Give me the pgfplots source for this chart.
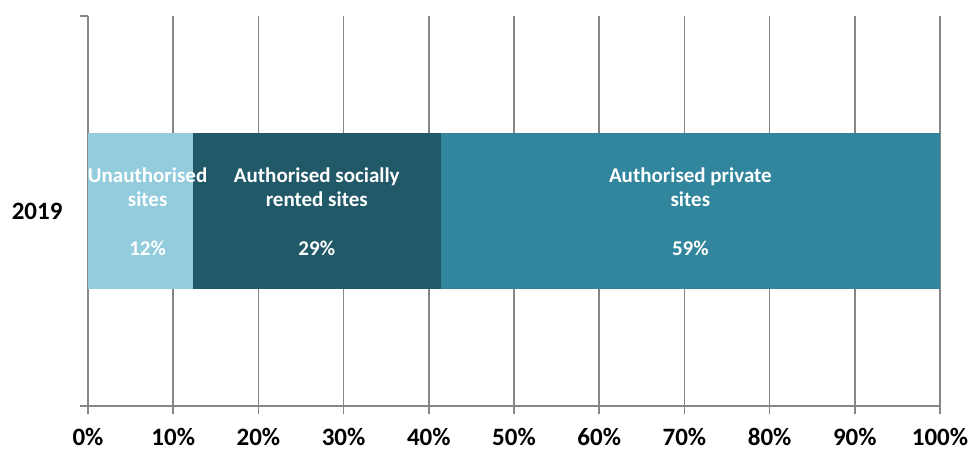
\documentclass[border=0pt]{standalone}
\usepackage{pgfplots}
\pgfplotsset{compat=1.18}
\usepackage{fontspec}
\setmainfont{Carlito}
\definecolor{cLight}{HTML}{93CDDD}
\definecolor{cDark}{HTML}{215968}
\definecolor{cMid}{HTML}{31859C}
\definecolor{cGrid}{HTML}{868686}
\begin{document}
\begin{tikzpicture}[x=1pt,y=1pt]
\path[use as bounding box] (0,0) rectangle (973,450);
\begin{axis}[
  at={(88pt,44pt)}, anchor=south west,
  scale only axis, width=852pt, height=390pt,
  xbar stacked, bar width=155pt,
  xmin=0, xmax=100, ymin=-1, ymax=1,
  xtick={0,10,...,100},
  xticklabel={\pgfmathprintnumber{\tick}\%},
  /pgf/number format/assume math mode=true,
  ytick={-1,1}, yticklabels={},
  extra y ticks={0}, extra y tick labels={2019},
  extra y tick style={major tick length=0pt, yticklabel style={xshift=-22pt}},
  ticklabel style={font=\fontsize{25}{29}\selectfont\bfseries, text=black},
  xticklabel style={yshift=-13pt, inner sep=1pt},
  xmajorgrids, grid style={cGrid, line width=1.6pt},
  axis x line=bottom, axis y line=left,
  axis line style={cGrid, line width=1.6pt, -},
  tick style={cGrid, line width=1.6pt},
  major tick length=8pt, tick align=outside,
]
\addplot[fill=cLight, draw=none] coordinates {(12.3,0)};
\addplot[fill=cDark, draw=none] coordinates {(29.1,0)};
\addplot[fill=cMid, draw=none] coordinates {(58.6,0)};
\coordinate (A) at (axis cs:7.0,0);
\coordinate (B) at (axis cs:26.85,0);
\coordinate (C) at (axis cs:70.7,0);
\end{axis}
\tikzset{lab/.style={font=\fontsize{21}{24}\selectfont\bfseries, text=white, align=center}}
\node[lab, yshift=24pt] at (A) {Unauthorised\\sites};
\node[lab, yshift=-37pt] at (A) {12\%};
\node[lab, yshift=24pt] at (B) {Authorised socially\\rented sites};
\node[lab, yshift=-37pt] at (B) {29\%};
\node[lab, yshift=24pt] at (C) {Authorised private\\sites};
\node[lab, yshift=-37pt] at (C) {59\%};
\end{tikzpicture}
\end{document}
